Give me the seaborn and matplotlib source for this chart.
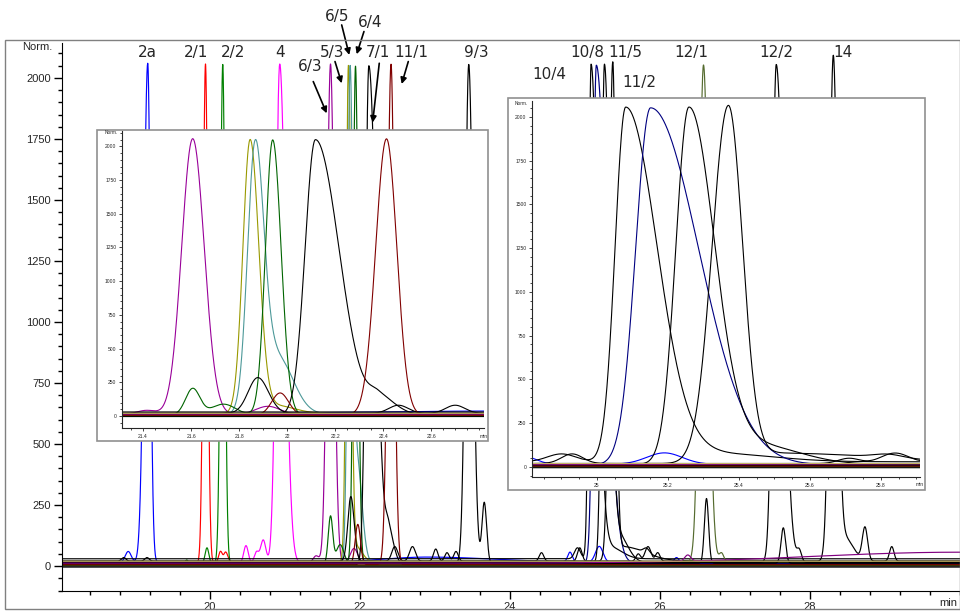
import numpy as np
import pandas as pd
import seaborn as sns
import matplotlib
matplotlib.use("Agg")
import matplotlib.pyplot as plt
from matplotlib.ticker import FixedLocator, MultipleLocator
from matplotlib.patches import Rectangle

# --- data: peaks as (centre min, height, sigma left, sigma right)
trace_names = ["2a", "2/1", "2/2", "4", "6/3", "5/3", "6/5", "6/4", "7/1", "minor",
               "11/1", "9/3", "10/4", "10/8", "11/5", "11/2", "12/1", "extra", "12/2", "14",
               "drift", "base_a", "base_b", "base_c", "base_d", "base_e"]
trace_colors = ["#0000ff", "#ff0000", "#008000", "#ff00ff", "#990099", "#999900", "#4d9999",
                "#006400", "black", "black", "#800000", "black", "black", "#000080", "black",
                "black", "#556b2f", "black", "black", "black", "#800080", "#c8b464",
                "black", "black", "#006400", "#800000"]
baselines = [15, 12, 10, 12, 12, 18, 14, 8, 5, 20, 6, 10, 30, 12, 15, 20, 18, 12, 15, 20,
             12, 20, 0, -4, 3, 5]

peaks_2a = [(19.17, 2045, 0.05, 0.035), (18.91, 45, 0.04, 0.04), (22.9, 22, 0.6, 0.9),
            (24.8, 40, 0.03, 0.03), (25.19, 65, 0.05, 0.05), (26.22, 20, 0.03, 0.03)]
peaks_2_1 = [(19.94, 2045, 0.03, 0.03), (20.14, 48, 0.025, 0.025), (20.21, 45, 0.025, 0.03)]
peaks_2_2 = [(20.17, 2045, 0.03, 0.03), (19.96, 65, 0.025, 0.025), (19.69, 15, 0.02, 0.02)]
peaks_4 = [(20.93, 2045, 0.05, 0.075), (20.48, 72, 0.03, 0.03), (20.62, 45, 0.03, 0.03),
           (20.71, 95, 0.035, 0.035)]
peaks_6_3 = [(21.607, 2045, 0.046, 0.048), (21.415, 30, 0.04, 0.04), (21.92, 60, 0.05, 0.05)]
peaks_5_3 = [(21.846, 2020, 0.03, 0.036), (21.95, 60, 0.06, 0.08)]
peaks_6_5 = [(21.867, 1960, 0.032, 0.036), (21.96, 420, 0.05, 0.065)]
peaks_6_4 = [(21.94, 2040, 0.03, 0.035), (21.607, 195, 0.03, 0.03), (21.735, 80, 0.05, 0.05)]
peaks_7_1 = [(22.118, 2045, 0.043, 0.098), (22.38, 130, 0.04, 0.07)]
peaks_minor = [(18.85, 15, 0.03, 0.03), (19.16, 15, 0.03, 0.03), (21.878, 265, 0.04, 0.044),
               (22.464, 60, 0.04, 0.04), (22.70, 60, 0.04, 0.04), (23.01, 50, 0.03, 0.03),
               (23.16, 35, 0.03, 0.03), (23.28, 40, 0.03, 0.03), (24.42, 35, 0.03, 0.03),
               (24.93, 55, 0.03, 0.03), (25.71, 30, 0.03, 0.03), (25.84, 60, 0.04, 0.04),
               (25.97, 35, 0.03, 0.03)]
peaks_11_1 = [(22.414, 2050, 0.045, 0.043), (21.971, 165, 0.035, 0.035)]
peaks_9_3 = [(23.45, 2045, 0.045, 0.055), (23.657, 250, 0.03, 0.032)]
peaks_10_4 = [(25.081, 2025, 0.03, 0.088), (25.35, 45, 0.1, 0.15), (24.90, 45, 0.04, 0.04)]
peaks_10_8 = [(25.151, 2040, 0.042, 0.135)]
peaks_11_5 = [(25.259, 2035, 0.037, 0.072), (25.45, 110, 0.08, 0.12)]
peaks_11_2 = [(25.37, 2030, 0.046, 0.04), (25.5, 60, 0.08, 0.3), (25.82, 20, 0.04, 0.04)]
peaks_12_1 = [(26.58, 2035, 0.055, 0.065), (26.82, 35, 0.03, 0.03)]
peaks_extra = [(26.62, 265, 0.028, 0.028), (27.644, 145, 0.03, 0.03)]
peaks_12_2 = [(27.55, 2040, 0.05, 0.096), (27.857, 45, 0.03, 0.03)]
peaks_14 = [(28.31, 2035, 0.05, 0.055), (28.45, 100, 0.1, 0.12), (28.733, 135, 0.035, 0.035),
            (29.09, 60, 0.03, 0.03)]
peaks_drift = [(26.37, 25, 0.04, 0.04), (30.0, 45, 2.0, 2.0)]

trace_peaks = [peaks_2a, peaks_2_1, peaks_2_2, peaks_4, peaks_6_3, peaks_5_3, peaks_6_5,
               peaks_6_4, peaks_7_1, peaks_minor, peaks_11_1, peaks_9_3, peaks_10_4,
               peaks_10_8, peaks_11_5, peaks_11_2, peaks_12_1, peaks_extra, peaks_12_2,
               peaks_14, peaks_drift, [], [], [], [], []]

# compound labels and arrows (minutes, Norm.)
label_text = ["2a", "2/1", "2/2", "4", "6/3", "5/3", "6/5", "6/4", "7/1", "11/1", "9/3",
              "10/4", "10/8", "11/5", "11/2", "12/1", "12/2", "14"]
label_x = [19.17, 19.81, 20.31, 20.93, 21.33, 21.63, 21.70, 22.13, 22.24, 22.69, 23.55,
           24.52, 25.03, 25.54, 25.72, 26.42, 27.55, 28.44]
label_y = [2106, 2106, 2106, 2106, 2045, 2106, 2250, 2229, 2106, 2106, 2106,
           2016, 2106, 2106, 1983, 2106, 2106, 2106]
arrow_tail = [(21.377, 1985), (21.667, 2067), (21.756, 2217), (22.053, 2190),
              (22.257, 2060), (22.644, 2067)]
arrow_head = [(21.556, 1855), (21.756, 1978), (21.857, 2094), (21.956, 2097),
              (22.169, 1817), (22.556, 1975)]


def signal(t, base, peaks):
    y = np.full_like(t, float(base))
    for c, h, sl, sr in peaks:
        s = np.where(t < c, sl, sr)
        y += h * np.exp(-0.5 * ((t - c) / s) ** 2)
    return y


time = np.linspace(18.0, 30.0, 12001)
frames = []
for name, base, pk in zip(trace_names, baselines, trace_peaks):
    frames.append(pd.DataFrame({"time": time, "signal": signal(time, base, pk), "trace": name}))
df = pd.concat(frames, ignore_index=True)
palette = dict(zip(trace_names, trace_colors))

sns.set_style("ticks")
plt.rcParams["font.family"] = ["Liberation Sans", "DejaVu Sans"]

fig = plt.figure(figsize=(9.6, 6.12), dpi=100)
W, H = 960, 612


def px_axes(l, t, r, b):
    return [l / W, 1 - b / H, (r - l) / W, (b - t) / H]


def draw(ax, data, lw):
    sns.lineplot(data=data, x="time", y="signal", hue="trace", hue_order=trace_names,
                 palette=palette, estimator=None, sort=False, legend=False,
                 linewidth=lw, ax=ax)
    ax.set_xlabel("")
    ax.set_ylabel("")
    sns.despine(ax=ax)


# --- main chromatogram
ax = fig.add_axes(px_axes(62, 43, 960, 591))
draw(ax, df, 0.85)
ax.set_xlim(18.027, 30.0)
ax.set_ylim(-102, 2143)
ax.xaxis.set_major_locator(FixedLocator([20, 22, 24, 26, 28]))
ax.xaxis.set_minor_locator(MultipleLocator(0.4))
ax.yaxis.set_major_locator(FixedLocator(np.arange(0, 2001, 250)))
ax.yaxis.set_minor_locator(MultipleLocator(50))
ax.tick_params(which="major", length=6, width=1, labelsize=8, pad=2, color="black")
ax.tick_params(which="minor", length=3, width=1, color="black")
for s in ax.spines.values():
    s.set_color("black")
fig.text(52 / W, 1 - 47 / H, "Norm.", ha="right", va="center", fontsize=8)
fig.text(957 / W, 1 - 603 / H, "min", ha="right", va="center", fontsize=8)

for txt, x, y in zip(label_text, label_x, label_y):
    ax.text(x, y, txt, ha="center", va="center", fontsize=11,
            family="DejaVu Sans", clip_on=False)
for tail, head in zip(arrow_tail, arrow_head):
    ax.annotate("", xy=head, xytext=tail, annotation_clip=False,
                arrowprops=dict(arrowstyle="-|>", color="black", lw=1.2,
                                mutation_scale=9, shrinkA=0, shrinkB=0))

frame = Rectangle((5 / W, 1 - 609 / H), 955 / W, 569 / H, transform=fig.transFigure,
                  fill=False, edgecolor="#808080", lw=1, zorder=5)
fig.add_artist(frame)

# --- zoomed insets
insets = [
    dict(box=(97, 130, 488, 441), axes=(122, 131, 484, 428), xlim=(21.3125, 22.82),
         ylim=(-89, 2114), xticks=[21.4, 21.6, 21.8, 22.0, 22.2, 22.4, 22.6]),
    dict(box=(508, 98, 925, 490), axes=(532, 101, 920, 477), xlim=(24.817, 25.91),
         ylim=(-57, 2091), xticks=[25.0, 25.2, 25.4, 25.6, 25.8]),
]
for ins in insets:
    l, t, r, b = ins["box"]
    box = Rectangle((l / W, 1 - b / H), (r - l) / W, (b - t) / H, transform=fig.transFigure,
                    facecolor="white", edgecolor="#909090", lw=1.2, zorder=2)
    fig.add_artist(box)
    iax = fig.add_axes(px_axes(*ins["axes"]))
    iax.set_zorder(3)
    sub = df[(df["time"] > ins["xlim"][0] - 0.05) & (df["time"] < ins["xlim"][1] + 0.05)]
    draw(iax, sub, 0.8)
    iax.set_xlim(*ins["xlim"])
    iax.set_ylim(*ins["ylim"])
    iax.xaxis.set_major_locator(FixedLocator(ins["xticks"]))
    iax.xaxis.set_minor_locator(MultipleLocator(0.05))
    iax.yaxis.set_major_locator(FixedLocator(np.arange(0, 2001, 250)))
    iax.yaxis.set_minor_locator(MultipleLocator(50))
    iax.xaxis.set_major_formatter(plt.FuncFormatter(lambda v, p: f"{v:g}"))
    iax.tick_params(which="major", length=2.5, width=0.6, labelsize=3.6, pad=1.5)
    iax.tick_params(which="minor", length=1.2, width=0.6)
    for s in iax.spines.values():
        s.set_linewidth(0.8)
    al, at, ar, ab = ins["axes"]
    fig.text((al - 4) / W, 1 - (at + 2) / H, "Norm.", ha="right", va="center", fontsize=3.4)
    mt = fig.text((ar - 4) / W, 1 - (ab + 8) / H, "min", ha="left", va="center",
                  fontsize=3.6, zorder=4)
    mt.set_clip_path(box)

fig.savefig("out.png", dpi=100)
